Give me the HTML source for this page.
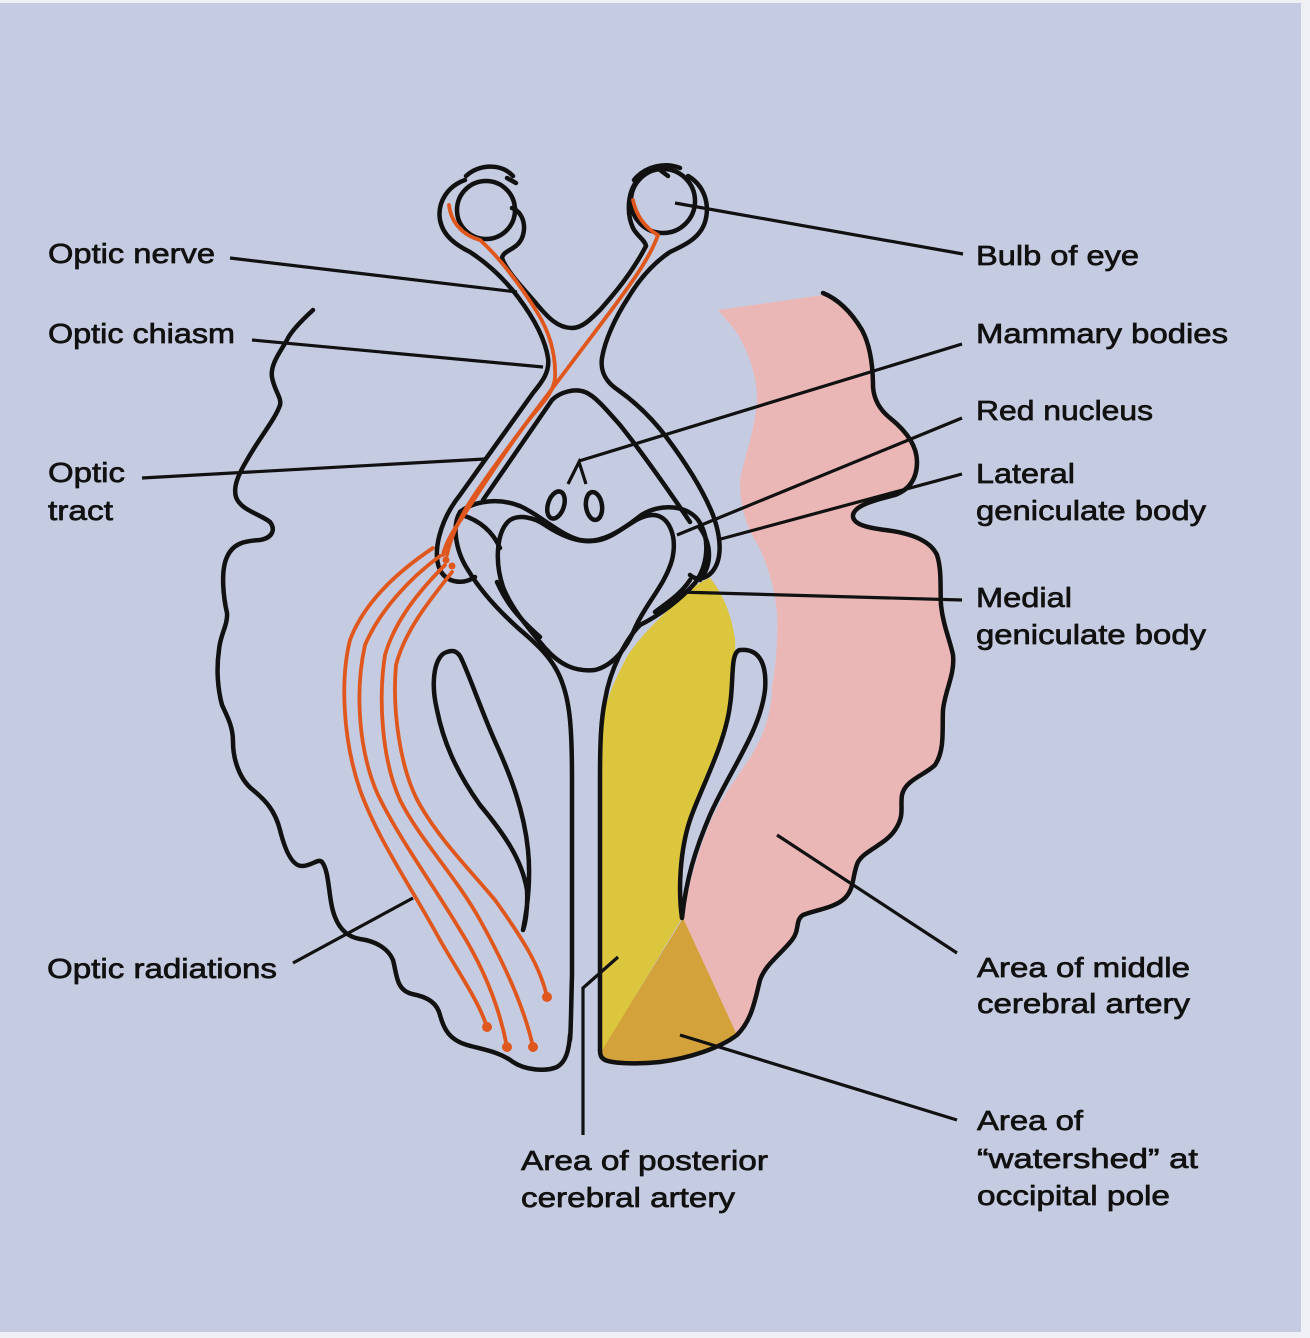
<!DOCTYPE html>
<html>
<head>
<meta charset="utf-8">
<style>
html,body{margin:0;padding:0;background:#eef0f6;}
svg{display:block;}
text{font-family:"Liberation Sans",Arial,sans-serif;font-size:28px;fill:#111;stroke:#111;stroke-width:0.7px;}
</style>
</head>
<body>
<svg width="1310" height="1338" viewBox="0 0 1310 1338" xmlns="http://www.w3.org/2000/svg">
<rect x="0" y="0" width="1310" height="1338" fill="#eef0f6"/>
<rect x="0" y="3" width="1301" height="1329" fill="#c5cce1"/>

<!-- PINK region (middle cerebral artery) -->
<path fill="#ebb7b6" d="M718,310 L823,295 C840,300 853,315 862,330 C870,345 873,365 873,387 C874,400 880,410 890,418 C905,430 917,445 917,462 C917,480 908,490 895,495 C875,500 855,505 853,515 C852,525 870,528 885,530 C910,533 930,540 937,555 C942,570 940,590 941,605 C943,625 950,640 953,655 C955,675 945,690 943,710 C942,730 945,750 935,765 C925,775 905,780 902,795 C900,808 905,815 895,830 C885,845 865,850 858,862 C852,875 855,888 845,898 C835,908 815,910 803,915 C795,920 800,930 792,940 C780,955 765,965 760,980 C755,1000 752,1020 737,1035 L683,920 C688,885 698,850 712,818 C728,785 752,760 762,735 C770,715 772,700 772,687 C776,665 778,640 777,613 C775,590 768,565 758,545 C745,525 740,505 740,480 C745,455 755,430 757,400 C757,375 748,350 735,330 Z"/>

<!-- YELLOW region (posterior cerebral artery) -->
<path fill="#dcc63e" d="M600,735 C602,712 610,688 628,655 C645,630 668,610 688,592 C696,585 704,580 710,578 C722,592 732,615 735,640 C736,665 733,685 730,705 C725,745 700,790 690,820 C680,850 678,890 682,918 L603,1050 L600,1050 Z"/>

<!-- ORANGE watershed triangle -->
<path fill="#d4a23a" d="M683,918 L737,1035 C720,1048 690,1058 660,1062 C640,1064 615,1064 605,1060 L601,1052 Z"/>

<g fill="none" stroke="#111" stroke-width="4.5" stroke-linecap="round" stroke-linejoin="round">
<!-- left hemisphere outline -->
<path d="M313,310 C300,322 290,333 287,340 C280,352 270,365 272,377 C274,390 282,398 280,405 C276,418 258,440 247,460 C238,475 233,487 236,497 C240,510 262,515 270,522 C276,530 272,538 260,540 C245,541 233,543 227,557 C220,572 224,600 227,613 C228,625 220,635 219,650 C216,670 218,690 222,705 C228,718 233,727 233,742 C233,760 240,780 253,790 C265,800 275,810 280,830 C285,850 292,866 302,866 C312,866 318,858 322,862 C330,872 328,900 335,917 C340,930 348,937 360,939 C375,941 388,948 393,960 C397,975 396,990 412,994 C428,997 437,1003 440,1015 C444,1030 450,1040 467,1045 C485,1050 500,1052 513,1062 C525,1070 545,1072 557,1067 C566,1062 569,1050 570,1035"/>
<!-- right hemisphere outline -->
<path d="M823,293 C840,300 853,315 862,330 C870,345 873,365 873,387 C874,400 880,410 890,418 C905,430 917,445 917,462 C917,480 908,490 895,495 C875,500 855,505 853,515 C852,525 870,528 885,530 C910,533 930,540 937,555 C942,570 940,590 941,605 C943,625 950,640 953,655 C955,675 945,690 943,710 C942,730 945,750 935,765 C925,775 905,780 902,795 C900,808 905,815 895,830 C885,845 865,850 858,862 C852,875 855,888 845,898 C835,908 815,910 803,915 C795,920 800,930 792,940 C780,955 765,965 760,980 C755,1000 752,1020 737,1035 C720,1048 690,1058 660,1062 C640,1064 615,1064 605,1060 C601,1058 600,1055 600,1050"/>

<!-- eyes -->
<circle cx="486" cy="210" r="29"/>
<circle cx="663" cy="201" r="32"/>
<path d="M466,176 C478,165 500,162 513,176"/>
<path d="M507,178 L516,183"/>
<path d="M512,208 C526,213 528,235 517,245 C510,251 503,252 502,258"/>
<path d="M634,180 C645,166 665,162 680,168"/>
<path d="M660,170 L668,176"/>
<path d="M636,182 C627,195 627,215 633,228 C637,236 645,240 646,246"/>

<!-- left nerve outer -> left tract outer -->
<path d="M465,180 C448,186 437,202 440,220 C443,236 456,245 470,252 C490,265 505,280 518,297 C533,317 545,338 548,358 C550,372 542,382 533,393 C515,418 485,460 460,495 C440,520 432,552 440,570 C447,583 463,585 475,577"/>
<!-- inner V between nerves -->
<path d="M502,258 C506,270 520,285 535,302 C548,318 558,328 572,328 C582,328 590,320 600,310 C615,293 632,273 646,246"/>
<!-- right nerve outer -> right tract outer -->
<path d="M688,176 C705,186 710,205 705,222 C700,238 685,245 670,252 C655,262 640,278 628,298 C615,318 605,340 602,358 C600,372 606,382 618,390 C635,402 652,418 667,438 C685,462 703,490 713,515 C722,540 722,560 712,572 C705,580 695,580 690,575"/>
<!-- tract inner lines -->
<path d="M483,500 C505,468 535,425 552,400 C560,392 575,388 585,392 C595,396 605,408 620,425 C640,450 665,485 690,522"/>

<!-- peduncle outer band -->
<path d="M460,512 C475,500 500,498 520,506 C540,515 560,535 580,540 C600,544 620,532 640,516 C660,502 690,505 700,523 C710,540 708,565 695,583 C680,600 660,615 640,625 C625,640 610,670 605,700 C601,720 600,740 600,780 L600,1050"/>
<path d="M460,512 C452,525 455,550 468,570 C480,590 498,610 518,628 C538,645 555,660 563,685 C570,705 572,730 572,780 L572,975 C571,1010 571,1030 570,1040"/>
<!-- heart (midbrain) -->
<path d="M510,520 C497,530 494,560 503,587 C512,610 530,630 545,648 C560,665 575,672 595,670 C615,665 628,645 635,628 C645,605 665,585 672,560 C678,535 668,515 653,515 C635,515 620,535 600,540 C580,545 560,535 545,525 C535,518 520,514 510,520 Z"/>
<path d="M497,582 C505,600 515,615 540,637"/>
<path d="M655,612 C668,602 680,595 690,580"/>
<path d="M700,528 C712,545 712,565 700,580"/>
<path d="M462,515 C478,520 492,530 500,548"/>

<!-- mammillary bodies -->
<ellipse cx="556" cy="505" rx="8" ry="14" transform="rotate(18 556 505)"/>
<ellipse cx="594" cy="506" rx="8" ry="14" transform="rotate(-8 594 506)"/>

<!-- left posterior horn -->
<path d="M447,652 C435,655 430,680 437,710 C443,740 455,770 480,805 C505,835 522,860 527,890 C528,910 525,925 523,930 C527,910 531,880 528,850 C524,810 510,775 498,748 C484,718 472,682 462,660 C458,650 452,650 447,652 Z"/>
<!-- right posterior horn -->
<path d="M740,650 C730,652 734,680 730,705 C725,745 700,790 690,820 C680,850 678,890 682,918 C686,880 695,850 710,815 C730,770 760,732 765,690 C767,665 760,648 740,650 Z"/>
</g>

<!-- orange fibers -->
<g fill="none" stroke="#e0571d" stroke-width="3.8" stroke-linecap="round" stroke-linejoin="round">
<path d="M449,205 C451,222 462,235 480,240 C500,258 520,285 537,312 C550,333 556,355 555,378 C553,395 540,405 525,425 C505,452 480,490 462,518 C452,532 445,545 443,555"/>
<path d="M633,200 C636,215 645,228 658,235 C650,258 630,285 610,312 C585,345 555,385 530,418 C510,445 485,478 468,505 C458,522 450,540 447,555"/>
<path d="M433,548 C400,570 365,600 350,640 C340,680 343,740 360,790 C378,840 410,885 440,940 C460,975 478,1000 487,1027"/>
<path d="M440,556 C410,578 380,610 365,645 C355,690 358,750 378,795 C400,840 430,880 460,930 C485,970 500,1010 507,1047"/>
<path d="M445,565 C420,590 395,620 385,655 C378,700 382,760 400,800 C420,840 455,875 480,920 C505,965 525,1010 533,1047"/>
<path d="M452,572 C430,600 405,630 396,665 C392,710 400,770 420,805 C440,840 470,870 495,900 C520,935 540,965 547,997"/>
</g>
<g fill="#e0571d">
<circle cx="487" cy="1027" r="5"/>
<circle cx="507" cy="1047" r="5"/>
<circle cx="533" cy="1047" r="5"/>
<circle cx="547" cy="997" r="5"/>
<circle cx="446" cy="560" r="3.5"/>
<circle cx="452" cy="566" r="3.5"/>
</g>

<!-- leader lines -->
<g fill="none" stroke="#111" stroke-width="3.2" stroke-linecap="butt" stroke-linejoin="miter">
<path d="M230,258 L517,292"/>
<path d="M252,340 L543,367"/>
<path d="M142,478 L485,459"/>
<path d="M293,963 L413,898"/>
<path d="M675,203 L963,254"/>
<path d="M962,344 L579,461 M568,484 L579,462 L586,484"/>
<path d="M677,535 L962,418"/>
<path d="M717,540 L962,474"/>
<path d="M678,592 L962,600"/>
<path d="M777,835 L957,953"/>
<path d="M680,1035 L957,1120"/>
<path d="M618,957 L583,988 L583,1135"/>
</g>

<!-- labels -->
<text x="48" y="263" textLength="167" lengthAdjust="spacingAndGlyphs">Optic nerve</text>
<text x="48" y="343" textLength="187" lengthAdjust="spacingAndGlyphs">Optic chiasm</text>
<text x="48" y="482" textLength="77" lengthAdjust="spacingAndGlyphs">Optic</text>
<text x="48" y="520" textLength="65" lengthAdjust="spacingAndGlyphs">tract</text>
<text x="47" y="978" textLength="230" lengthAdjust="spacingAndGlyphs">Optic radiations</text>

<text x="976" y="265" textLength="163" lengthAdjust="spacingAndGlyphs">Bulb of eye</text>
<text x="976" y="343" textLength="252" lengthAdjust="spacingAndGlyphs">Mammary bodies</text>
<text x="976" y="420" textLength="177" lengthAdjust="spacingAndGlyphs">Red nucleus</text>
<text x="976" y="483" textLength="99" lengthAdjust="spacingAndGlyphs">Lateral</text>
<text x="976" y="520" textLength="230" lengthAdjust="spacingAndGlyphs">geniculate body</text>
<text x="976" y="607" textLength="96" lengthAdjust="spacingAndGlyphs">Medial</text>
<text x="976" y="644" textLength="230" lengthAdjust="spacingAndGlyphs">geniculate body</text>

<text x="977" y="977" textLength="213" lengthAdjust="spacingAndGlyphs">Area of middle</text>
<text x="977" y="1013" textLength="213" lengthAdjust="spacingAndGlyphs">cerebral artery</text>
<text x="977" y="1130" textLength="106" lengthAdjust="spacingAndGlyphs">Area of</text>
<text x="977" y="1168" textLength="221" lengthAdjust="spacingAndGlyphs">“watershed” at</text>
<text x="977" y="1205" textLength="193" lengthAdjust="spacingAndGlyphs">occipital pole</text>

<text x="521" y="1170" textLength="247" lengthAdjust="spacingAndGlyphs">Area of posterior</text>
<text x="521" y="1207" textLength="214" lengthAdjust="spacingAndGlyphs">cerebral artery</text>
</svg>
</body>
</html>
